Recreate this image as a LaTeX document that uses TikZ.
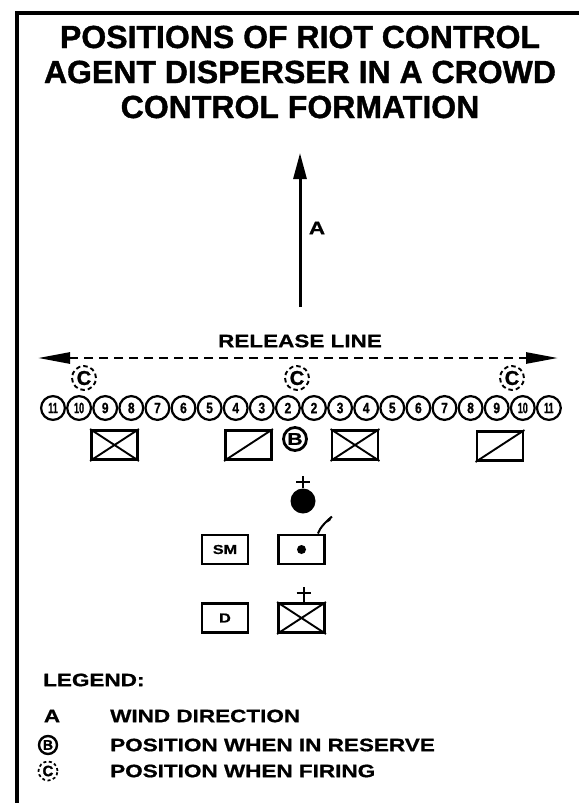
\documentclass[tikz,border=0pt]{standalone}
\usepackage{fontspec}
\setmainfont{Liberation Sans}
\newfontfamily\titlefont[FakeBold=1.2]{Liberation Sans}
\newfontfamily\widefont[FakeStretch=1.25,FakeBold=0.8]{Liberation Sans}
\newfontfamily\condfont[FakeStretch=0.8,FakeBold=0.8]{Liberation Sans}
\newfontfamily\narrowfont[FakeStretch=0.6,FakeBold=0.8]{Liberation Sans}
\usetikzlibrary{arrows.meta,calc}
\tikzset{
  frameline/.style={line width=3.8pt},
  titletext/.style={font=\titlefont\bfseries\fontsize{32}{35}\selectfont, align=center, inner sep=0pt},
  lbl/.style={font=\widefont\bfseries\fontsize{18}{20}\selectfont, inner sep=0pt},
  num/.style={circle, draw, line width=2.2pt, minimum size=23.8pt, inner sep=0pt,
    font=\condfont\bfseries\fontsize{15}{15}\selectfont},
  firing/.style={circle, draw, dash pattern=on 4.5pt off 3pt, line width=1.9pt,
    minimum size=24pt, inner sep=0pt, font=\titlefont\bfseries\fontsize{20}{20}\selectfont},
  reserve/.style={circle, draw, line width=2.8pt, minimum size=23pt, inner sep=0pt,
    font=\widefont\bfseries\fontsize{17}{17}\selectfont},
  unitbox/.style={draw, line width=2.9pt, minimum width=46pt, minimum height=29pt, inner sep=0pt},
  diag/.style={line width=1.9pt},
  wind/.style={line width=3pt, -{Triangle[length=26pt,width=13pt]}},
  relline/.style={line width=2.7pt, dash pattern=on 9pt off 6pt,
    {Triangle[length=32pt,width=11pt]}-{Triangle[length=32pt,width=11pt]}},
  cross/.style={line width=2pt},
  boxtext/.style={font=\widefont\bfseries\fontsize{13}{13}\selectfont},
}
\begin{document}
\begin{tikzpicture}[x=1pt,y=-1pt]
\useasboundingbox (0,0) rectangle (579,803);
% frame
\coordinate (fBL) at (17,803);
\coordinate (fTL) at (17,13);
\coordinate (fTR) at (579,13);
\draw[frameline] (fBL) -- (fTL) -- (fTR);
% title
\node[titletext] (title) at (300,72) {POSITIONS OF RIOT CONTROL\\AGENT DISPERSER IN A CROWD\\CONTROL FORMATION};
% wind arrow
\coordinate (windS) at (300,307);
\coordinate (windE) at (300,153);
\draw[wind] (windS) -- (windE);
\node[lbl] (windA) at (317,228) {A};
% release line
\node[lbl] (reltext) at (300,341) {RELEASE LINE};
\coordinate (relL) at (38,358);
\coordinate (relR) at (558,358);
\draw[relline] (relL) -- (relR);
% firing positions
\node[firing] (cL) at (84,378) {C};
\node[firing] (cM) at (297,378) {C};
\node[firing] (cR) at (512,378) {C};
% numbered circles
\foreach \t [count=\i from 0] in {11,10,9,8,7,6,5,4,3,2,2,3,4,5,6,7,8,9,10,11}{
  \node[num] (n\i) at ({53+26.1*\i},408) {\ifnum\t>9 \narrowfont\fi\t};
}
% unit boxes
\node[unitbox] (u1) at (114.5,445) {};
\node[unitbox] (u2) at (248.5,445) {};
\node[unitbox] (u3) at (355,445) {};
\node[unitbox] (u4) at (500,446) {};
\draw[diag] (u1.north west) -- (u1.south east) (u1.south west) -- (u1.north east);
\draw[diag] (u2.south west) -- (u2.north east);
\draw[diag] (u3.north west) -- (u3.south east) (u3.south west) -- (u3.north east);
\draw[diag] (u4.south west) -- (u4.north east);
\node[reserve] (resB) at (295,439) {B};
% black circle with cross
\node[circle, fill=black, minimum size=25pt, inner sep=0pt] (blk) at (303,501) {};
\coordinate (blkTop) at ($(blk.north)+(0,-12)$);
\draw[cross] (blk.north) -- (blkTop);
\draw[cross] ($(blk.north)+(-7,-6)$) -- ($(blk.north)+(7,-6)$);
% SM and dot box
\node[unitbox, boxtext] (sm) at (225,549.5) {SM};
\node[unitbox] (dbx) at (301.5,549.5) {};
\node[circle, fill=black, minimum size=9pt, inner sep=0pt] (dot) at (dbx.center) {};
\coordinate (fS) at ($(dbx.north east)+(-8,0)$);
\coordinate (fE) at ($(dbx.north east)+(6,-17)$);
\draw[line width=2pt] (fS) .. controls ($(fS)+(2,-6)$) and ($(fE)+(-6,5)$) .. (fE);
\fill ($(fE)+(-5,6)$) .. controls ($(fE)+(-4,2)$) and ($(fE)+(-2,0)$) .. (fE)
      .. controls ($(fE)+(-1,3)$) and ($(fE)+(-2,6)$) .. ($(fE)+(-5,6)$) -- cycle;
% D and crossed box
\node[unitbox, boxtext] (dd) at (225,618) {D};
\node[unitbox] (xb) at (301.5,618) {};
\draw[diag] (xb.north west) -- (xb.south east) (xb.south west) -- (xb.north east);
\coordinate (xbTop) at ($(xb.north)+(2,-15)$);
\draw[cross] ($(xb.north)+(2,0)$) -- (xbTop);
\draw[cross] ($(xb.north)+(-5,-9)$) -- ($(xb.north)+(9,-9)$);
% legend
\node[lbl, anchor=west] (leg) at (43,680) {LEGEND:};
\node[lbl] (legA) at (52,716) {A};
\node[lbl, anchor=west] (legAt) at (110,716) {WIND DIRECTION};
\node[reserve, minimum size=18pt, line width=2.4pt, font=\titlefont\bfseries\fontsize{14}{14}\selectfont] (legB) at (48,745) {B};
\node[lbl, anchor=west] (legBt) at (110,745) {POSITION WHEN IN RESERVE};
\node[firing, minimum size=19pt, dash pattern=on 3pt off 2.5pt, line width=1.7pt, font=\titlefont\bfseries\fontsize{15}{15}\selectfont] (legC) at (48,771) {C};
\node[lbl, anchor=west] (legCt) at (110,771) {POSITION WHEN FIRING};
\end{tikzpicture}
\end{document}
